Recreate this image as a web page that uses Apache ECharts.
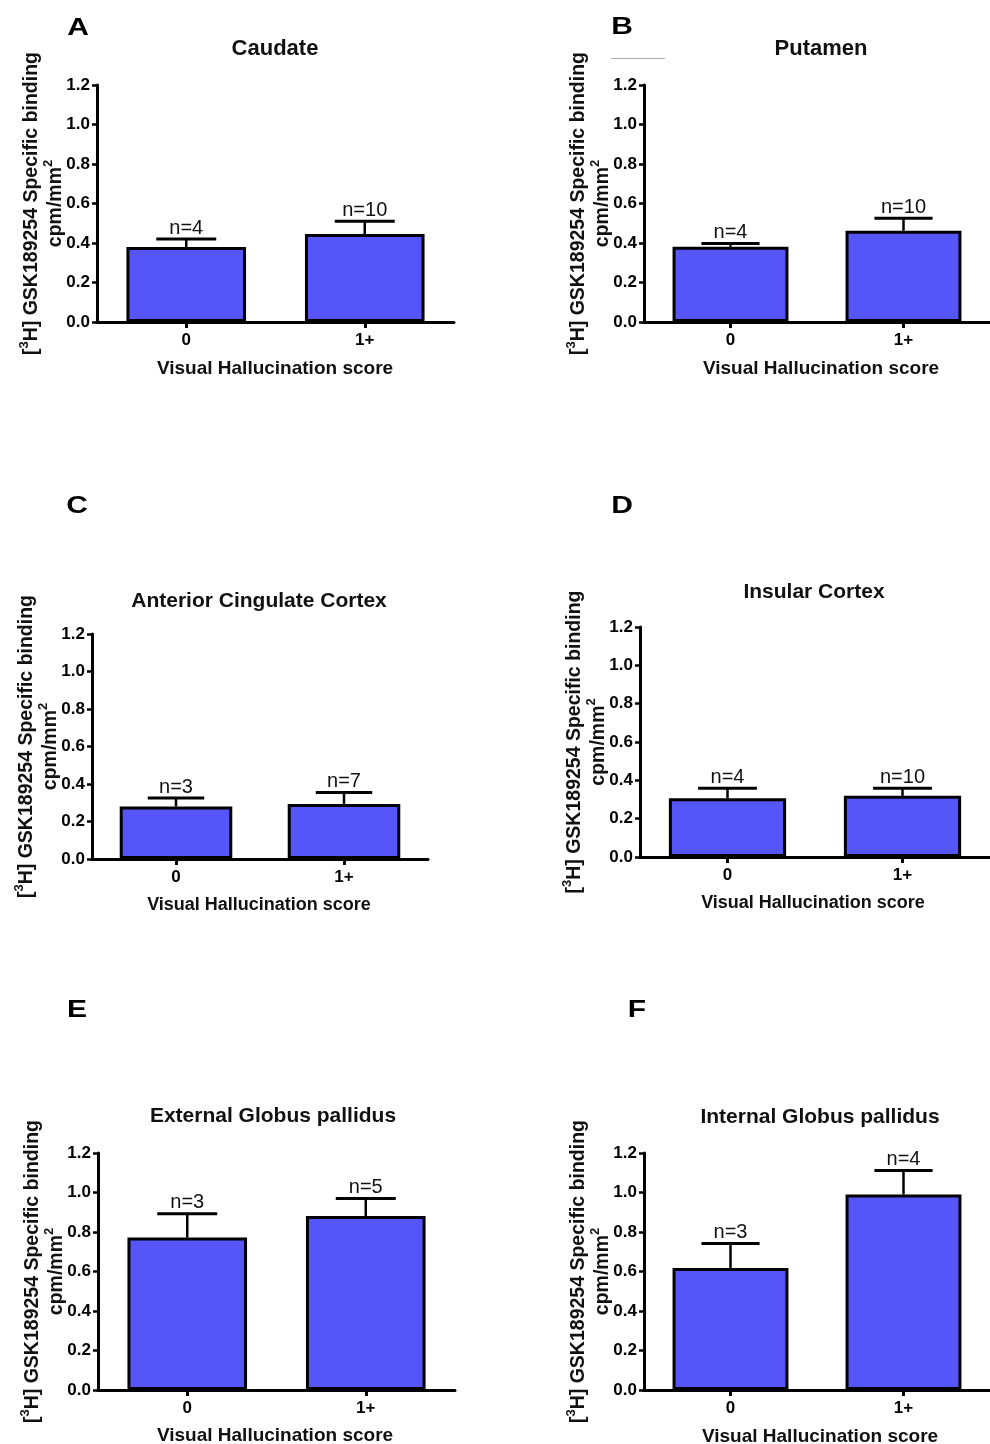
<!DOCTYPE html>
<html><head><meta charset="utf-8">
<script src="https://cdn.jsdelivr.net/npm/echarts@6/dist/echarts.min.js"></script>
<style>html,body{margin:0;padding:0;background:#fff}#c{width:990px;height:1444px}</style>
</head><body><div id="c"></div>
<script>
// ---- data ----
const categories = ['0', '1+'];
const yMin = 0, yMax = 1.2, yStep = 0.2;
const panelLetters = ['A', 'B', 'C', 'D', 'E', 'F'];
const panelTitles = ['Caudate', 'Putamen', 'Anterior Cingulate Cortex', 'Insular Cortex', 'External Globus pallidus', 'Internal Globus pallidus'];
const xAxisTitle = 'Visual Hallucination score';

const caudateMean = [0.38, 0.445];
const caudateSem = [0.04, 0.065];
const caudateN = ['n=4', 'n=10'];

const putamenMean = [0.381, 0.462];
const putamenSem = [0.017, 0.063];
const putamenN = ['n=4', 'n=10'];

const accMean = [0.28, 0.293];
const accSem = [0.045, 0.062];
const accN = ['n=3', 'n=7'];

const insularMean = [0.307, 0.319];
const insularSem = [0.052, 0.040];
const insularN = ['n=4', 'n=10'];

const egpMean = [0.772, 0.881];
const egpSem = [0.121, 0.088];
const egpN = ['n=3', 'n=5'];

const igpMean = [0.618, 0.990];
const igpSem = [0.124, 0.121];
const igpN = ['n=3', 'n=4'];

const means = [caudateMean, putamenMean, accMean, insularMean, egpMean, igpMean];
const sems = [caudateSem, putamenSem, accSem, insularSem, egpSem, igpSem];
const nLabels = [caudateN, putamenN, accN, insularN, egpN, igpN];

// ---- layout ----
const layout = [
  {left: 97, top: 85, width: 357, height: 237, letter: [78, 28], title: [275, 49], titleSize: 22, xname: [275, 369], xnameSize: 19},
  {left: 644, top: 85, width: 358, height: 237, letter: [622, 27], title: [821, 49], titleSize: 22, xname: [821, 369], xnameSize: 19},
  {left: 92, top: 634, width: 336, height: 225, letter: [77, 506], title: [259, 601], titleSize: 21, xname: [259, 905], xnameSize: 18},
  {left: 640, top: 627, width: 354, height: 230, letter: [622, 506], title: [814, 592], titleSize: 21, xname: [813, 903], xnameSize: 18},
  {left: 98, top: 1153, width: 357, height: 237, letter: [77, 1010], title: [273, 1116], titleSize: 21, xname: [275, 1436], xnameSize: 19},
  {left: 644, top: 1153, width: 358, height: 237, letter: [637, 1010], title: [820, 1117], titleSize: 21, xname: [820, 1437], xnameSize: 19}
];

const FONT = '"Liberation Sans", Arial, Helvetica, sans-serif';
const BAR_COLOR = '#5656F8';

const chart = echarts.init(document.getElementById('c'), null, {renderer: 'canvas'});

const grids = [], xAxes = [], yAxes = [], series = [], graphics = [];

function errRender(labels) {
  return function (params, api) {
    const i = api.value(0);
    const mean = api.value(1);
    const top = api.value(2);
    const base = api.coord([i, mean]);
    const tip = api.coord([i, top]);
    const band = api.size([1, 0])[0];
    const half = band * 0.168;
    return {
      type: 'group',
      children: [
        {type: 'line', shape: {x1: base[0], y1: base[1], x2: tip[0], y2: tip[1]}, style: {stroke: '#000', lineWidth: 2.5}},
        {type: 'line', shape: {x1: tip[0] - half, y1: tip[1], x2: tip[0] + half, y2: tip[1]}, style: {stroke: '#000', lineWidth: 3}},
        {type: 'text', x: tip[0], y: tip[1] - 1, style: {text: labels[params.dataIndex], fontSize: 20, fontFamily: FONT, fill: '#111', align: 'center', verticalAlign: 'bottom'}}
      ]
    };
  };
}

layout.forEach((L, p) => {
  grids.push({left: L.left, top: L.top, width: L.width, height: L.height, containLabel: false});
  xAxes.push({
    type: 'category', gridIndex: p, data: categories,
    axisLine: {show: true, lineStyle: {color: '#000', width: 3}},
    axisTick: {show: true, alignWithLabel: true, length: 6, lineStyle: {color: '#000', width: 3}},
    axisLabel: {show: true, margin: 10, color: '#000', fontSize: 17, fontWeight: 'bold', fontFamily: FONT},
    splitLine: {show: false}
  });
  yAxes.push({
    type: 'value', gridIndex: p, min: yMin, max: yMax, interval: yStep,
    axisLine: {show: true, onZero: false, lineStyle: {color: '#000', width: 3}},
    axisTick: {show: true, length: 5, lineStyle: {color: '#000', width: 2.5}},
    axisLabel: {show: true, margin: 7, color: '#000', fontSize: 17, fontWeight: 'bold', fontFamily: FONT,
      formatter: v => v.toFixed(1)},
    splitLine: {show: false}
  });
  series.push({
    type: 'bar', xAxisIndex: p, yAxisIndex: p, data: means[p], barWidth: '67%', z: 1,
    itemStyle: {color: BAR_COLOR, borderColor: '#000', borderWidth: 3},
    silent: true
  });
  series.push({
    type: 'custom', xAxisIndex: p, yAxisIndex: p, z: 3, silent: true,
    data: categories.map((c, k) => [k, means[p][k], means[p][k] + sems[p][k]]),
    encode: {x: 0, y: [1, 2]},
    renderItem: errRender(nLabels[p])
  });
  // panel letter
  graphics.push({type: 'text', x: L.letter[0], y: L.letter[1], scaleX: 1.25,
    style: {text: panelLetters[p], fontSize: 24, fontWeight: 'bold', fontFamily: FONT, fill: '#000', align: 'center', verticalAlign: 'middle'}});
  // title
  graphics.push({type: 'text', x: L.title[0], y: L.title[1],
    style: {text: panelTitles[p], fontSize: L.titleSize, fontWeight: 'bold', fontFamily: FONT, fill: '#111', align: 'center', verticalAlign: 'middle'}});
  // x axis name
  graphics.push({type: 'text', x: L.xname[0], y: L.xname[1],
    style: {text: xAxisTitle, fontSize: L.xnameSize, fontWeight: 'bold', fontFamily: FONT, fill: '#111', align: 'center', verticalAlign: 'middle'}});
  // y axis name (two lines, rotated)
  graphics.push({type: 'text', x: L.left - 55, y: L.top + L.height / 2, rotation: Math.PI / 2,
    style: {
      text: '{m|[}{s|3}{m|H] GSK189254 Specific binding}\n{m|cpm/mm}{s|2}',
      align: 'center', verticalAlign: 'middle', fill: '#111',
      rich: {
        m: {fontSize: 19.5, fontWeight: 'bold', fontFamily: FONT, lineHeight: 24, verticalAlign: 'bottom', fill: '#111'},
        s: {fontSize: 13, fontWeight: 'bold', fontFamily: FONT, lineHeight: 13, verticalAlign: 'top', fill: '#111'}
      }
    }});
});

// faint grey stroke present near panel B
graphics.push({type: 'line', shape: {x1: 611, y1: 58.5, x2: 665, y2: 58.5}, style: {stroke: '#aaaaaa', lineWidth: 1}});

chart.setOption({
  animation: false,
  backgroundColor: '#fff',
  grid: grids, xAxis: xAxes, yAxis: yAxes, series: series,
  graphic: {elements: graphics}
});
</script></body></html>
